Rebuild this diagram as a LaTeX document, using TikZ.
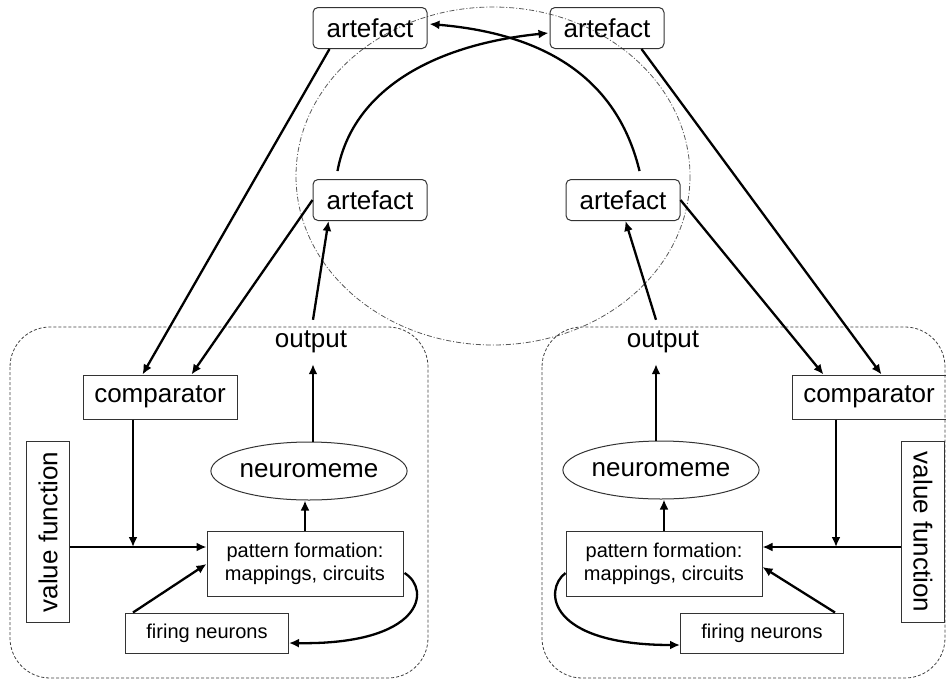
\documentclass[tikz,border=0pt]{standalone}
\usepackage{fontspec}
\setmainfont{Liberation Sans}
\usetikzlibrary{arrows.meta,calc,shapes.geometric}
\begin{document}
\begin{tikzpicture}[x=1pt,y=-1pt,
  box/.style={draw=black!80, line width=1pt, inner sep=0pt, align=center},
  bigf/.style={font=\fontsize{26}{28}\selectfont},
  smallf/.style={font=\fontsize{20}{22.5}\selectfont},
  artbox/.style={box, bigf, rounded corners=5pt, minimum width=114pt, minimum height=41pt},
  cmpbox/.style={box, bigf, minimum width=154pt, minimum height=44pt},
  vfbox/.style={box, bigf, minimum width=43pt, minimum height=181pt},
  patbox/.style={box, smallf, minimum width=196pt, minimum height=65pt},
  firbox/.style={box, smallf, minimum width=163pt, minimum height=40pt},
  neubox/.style={draw=black!80, line width=1pt, ellipse, inner sep=0pt, bigf, minimum width=189pt, minimum height=58pt},
  outtxt/.style={bigf, inner sep=0pt, minimum height=44pt},
  arr/.style={line width=2.3pt, -{Latex[length=10pt,width=9pt]}},
  panel/.style={draw=black!75, line width=0.8pt, dash pattern=on 3pt off 2pt, rounded corners=40pt},
  ring/.style={draw=black!65, line width=0.8pt, dash pattern=on 5pt off 2pt on 1pt off 2pt},
]
\useasboundingbox (0,0) rectangle (946,681);

% dash-dot ellipse and dashed panels
\draw[ring] (493,176) ellipse [x radius=197, y radius=169];
\draw[panel] (10,327) rectangle (428,678);
\draw[panel] (542,327) rectangle (945,678);

% artefacts
\node[artbox] (tl) at (370,28) {artefact};
\node[artbox] (tr) at (607,28) {artefact};
\node[artbox] (ml) at (370,200) {artefact};
\node[artbox] (mr) at (623,200) {artefact};

% left panel
\node[outtxt] (outl) at (311,342) {output};
\node[cmpbox] (cl) at (160,397) {comparator};
\node[vfbox] (vfl) at (48,532) {\rotatebox{90}{value function}};
\node[neubox] (neul) at (309,471) {neuromeme};
\node[patbox] (patl) at (305,564) {pattern formation:\\mappings, circuits};
\node[firbox] (firl) at (207,633) {firing neurons};
\coordinate (jl) at (133,547);

% right panel
\node[outtxt] (outr) at (663,342) {output};
\node[cmpbox] (cr) at (869,397) {comparator};
\node[vfbox] (vfr) at (923,532) {\rotatebox{-90}{value function}};
\node[neubox] (neur) at (661,470) {neuromeme};
\node[patbox] (patr) at (664,564) {pattern formation:\\mappings, circuits};
\node[firbox] (firr) at (762,633) {firing neurons};
\coordinate (jr) at (836,547);

% top connectors
\draw[arr] ($(ml.north west)+(25,-8)$) .. controls (352,92) and (430,45) .. ($(tr.west)+(-1,5)$);
\draw[arr] ($(mr.north west)+(74,-8)$) .. controls (620,90) and (560,35) .. ($(tl.east)+(2,-4)$);

% left connectors
\draw[arr] ([xshift=17pt]tl.south west) -- ([xshift=60pt]cl.north west);
\draw[arr] (ml.west) -- ([xshift=109pt]cl.north west);
\draw[arr] ([xshift=2pt]outl.north) -- ([xshift=16pt]ml.south west);
\draw[arr] ([xshift=4pt]neul.north) -- ([xshift=4pt]neul.north |- outl.south);
\draw[arr] (patl.north) -- (patl.north |- neul.south);
\draw[arr] (cl.south -| jl) -- (jl);
\draw[arr] (vfl.east |- jl) -- (patl.west |- jl);
\draw[arr] ([xshift=8pt]firl.north west) -- (patl.west);
\draw[arr] ($(patl.east)+(1,9)$) .. controls (432,590) and (422,645) .. ($(firl.east)+(0,10)$);

% right connectors
\draw[arr] ([xshift=92pt]tr.south west) -- ([xshift=90pt]cr.north west);
\draw[arr] (mr.east) -- ([xshift=32pt]cr.north west);
\draw[arr] ([xshift=-7pt]outr.north) -- ([xshift=-55pt]mr.south east);
\draw[arr] ([xshift=-5pt]neur.north) -- ([xshift=-5pt]neur.north |- outr.south);
\draw[arr] (patr.north) -- (patr.north |- neur.south);
\draw[arr] (cr.south -| jr) -- (jr);
\draw[arr] (vfr.west |- jr) -- (patr.east |- jr);
\draw[arr] ([xshift=-9pt]firr.north east) -- ($(patr.east)+(0,3)$);
\draw[arr] ($(patr.west)+(0,9)$) .. controls (543,590) and (548,645) .. ($(firr.west)+(0,12)$);
\end{tikzpicture}
\end{document}
